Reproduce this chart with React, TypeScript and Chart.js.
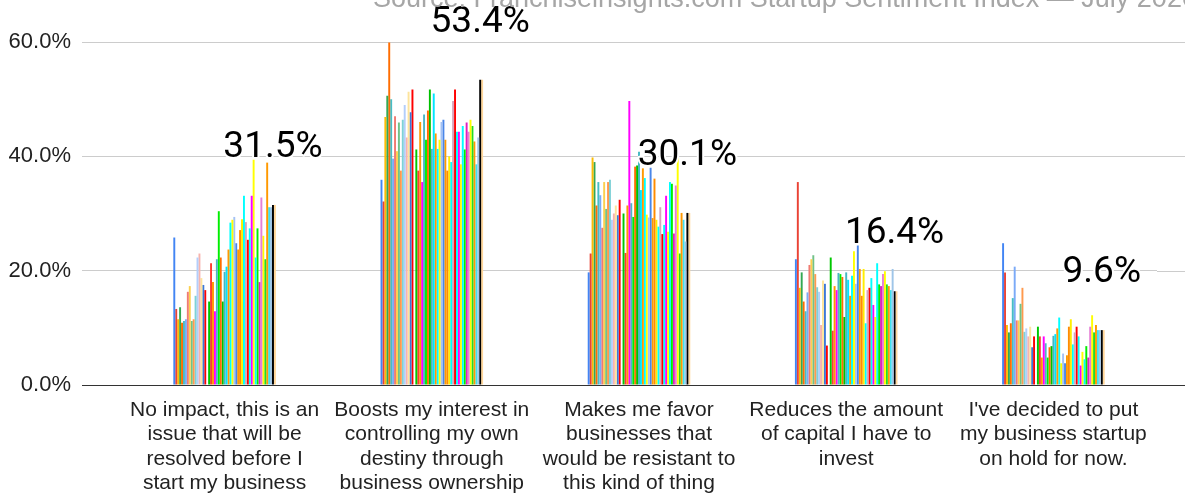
import { useEffect, useRef } from 'react';
import { Chart, registerables } from 'chart.js';

Chart.register(...registerables);

// Answer options shown along the x axis
const categories: string[][] = [
  ['No impact, this is an', 'issue that will be', 'resolved before I', 'start my business'],
  ['Boosts my interest in', 'controlling my own', 'destiny through', 'business ownership'],
  ['Makes me favor', 'businesses that', 'would be resistant to', 'this kind of thing'],
  ['Reduces the amount', 'of capital I have to', 'invest'],
  ["I've decided to put", 'my business startup', 'on hold for now.'],
];

// Share of respondents per survey wave (%), one array per answer option.
// The 18th slot is an empty wave with no responses.
const noImpact = [
  25.8, 13.3, 11.5, 13.6, 10.9, 11.2, 11.5, 16.3, 17.3, 11.2, 11.5, 15.6, 22.3, 23.0, 18.7, 17.5, 16.6,
  null,
  14.6, 21.3, 18.0, 12.9, 22.0, 30.4, 22.3, 14.6, 19.8, 20.7, 23.7, 28.4, 28.9, 29.4, 24.8, 23.7, 27.1,
  29.0, 33.1, 28.5, 25.4, 27.4, 33.1, 39.4, 22.3, 27.4, 18.0, 32.8, 26.1, 22.0, 38.9, 31.1, 31.1,
];
const boostsInterest = [
  35.9, 32.1, 46.9, 50.6, 59.9, 50.0, 39.6, 47.0, 40.9, 45.9, 37.5, 46.4, 49.0, 43.3, 51.3, 47.7, 51.7,
  null,
  41.2, 37.5, 46.0, 35.5, 47.3, 42.9, 48.0, 51.7, 41.3, 51.0, 44.0, 41.3, 42.9, 46.0, 46.4, 42.9, 37.5,
  40.0, 39.0, 49.7, 51.7, 44.3, 44.3, 38.6, 45.3, 41.2, 45.9, 44.3, 46.4, 45.3, 42.6, 38.6, 43.3,
];
const favorResistant = [
  19.7, 23.0, 39.8, 39.0, 31.4, 35.5, 33.2, 27.5, 35.5, 30.8, 35.5, 35.9, 28.9, 30.0, 31.4, 29.7, 32.4,
  null,
  30.0, 23.1, 31.4, 49.7, 31.8, 29.4, 38.2, 38.4, 40.8, 34.1, 37.9, 36.2, 29.8, 29.3, 38.0, 29.2, 36.1,
  28.9, 27.7, 31.1, 26.4, 28.0, 33.1, 26.8, 35.5, 35.2, 26.5, 34.9, 39.9, 23.0, 30.1, 28.9, 25.1,
];
const reducesCapital = [
  22.0, 35.5, 17.0, 19.7, 14.6, 12.9, 16.2, 21.0, 22.0, 22.7, 19.4, 17.1, 16.3, 10.5, 18.3, 17.7, 6.9,
  null,
  22.3, 9.5, 17.3, 16.6, 19.6, 19.4, 18.9, 11.9, 19.7, 18.4, 15.6, 19.1, 23.4, 17.7, 24.4, 20.3, 15.6,
  20.3, 10.8, 16.6, 17.0, 18.7, 14.0, 11.9, 21.3, 17.6, 17.3, 19.4, 19.9, 17.6, 17.3, 16.6, 20.3,
];
const onHold = [
  24.8, 19.7, 10.5, 9.2, 10.8, 15.2, 20.7, 11.3, 11.3, 14.2, 17.0, 9.3, 9.9, 8.5, 10.2, 6.6, 8.5,
  null,
  10.2, 8.5, 4.8, 8.5, 7.3, 4.8, 6.6, 6.8, 8.6, 8.9, 9.9, 11.8, 3.8, 5.5, 3.8, 5.2, 10.2,
  11.5, 7.1, 9.2, 10.2, 8.5, 3.4, 5.8, 4.5, 6.8, 4.8, 10.2, 12.2, 9.2, 10.5, 9.6, 9.6,
];

// Most recent wave, drawn last and labelled
const latestWave = [31.5, 53.4, 30.1, 16.4, 9.6];

const yTicks = [0, 20, 40, 60];

const waveColors = [
  '#4285f4', '#ea4335', '#fbbc04', '#34a853', '#ff6d01', '#46bdc6',
  '#7baaf7', '#f07b72', '#fcd04f', '#71c287', '#ff994d', '#7ed1d7',
  '#b3cefb', '#f7b4ae', '#fde49b', '#3c78d8', '#ff0000',
  '#ffffff',
  '#00c800', '#ff3b30', '#ff9900', '#ff00ff', '#4db6c4', '#00ee00', '#ff6d01', '#00c000',
  '#45b8c2', '#00e5ff', '#ff9900', '#00ffff', '#ffff00', '#a4c2f4', '#4a86e8', '#ff9900',
  '#ff8c00', '#ffee00', '#00ffff', '#d5a6bd', '#ff0000', '#00ffff', '#ff00ff', '#ffff00',
  '#00ffff', '#00ee00', '#e020c0', '#e67fd6', '#ffff00', '#22dd22', '#ff9900', '#40e0f0',
  '#9fc5e8',
];
const latestColor = '#000000';
const latestShade = '#ffd699';

const sourceText = 'Source: Franchiseinsights.com Startup Sentiment Index \u2014 July 2020';

const W = 1185;
const H = 497;

export default function App() {
  const ref = useRef<HTMLCanvasElement>(null);

  useEffect(() => {
    const canvas = ref.current;
    if (!canvas) return;

    const groups = [noImpact, boostsInterest, favorResistant, reducesCapital, onHold];
    const datasets: any[] = waveColors.map((c, i) => ({
      label: `Wave ${i + 1}`,
      data: groups.map((g) => g[i]),
      backgroundColor: c,
      borderWidth: 0,
    }));
    datasets.push(
      { label: 'July 2020', data: latestWave, backgroundColor: latestColor, borderWidth: 0 },
      { label: 'July 2020 (highlight)', data: latestWave, backgroundColor: latestShade, borderWidth: 0 }
    );
    const labelIndex = datasets.length - 2;

    const gridColor = (v: number) => (v === 0 ? '#333333' : '#cccccc');

    // carries the horizontal gridlines past the right edge of the plot
    const gridExtend = {
      id: 'gridExtend',
      beforeDatasetsDraw(chart: any) {
        const { ctx, chartArea, scales } = chart;
        const y = scales.y;
        ctx.save();
        ctx.lineWidth = 1;
        y.ticks.forEach((t: any) => {
          const py = Math.round(y.getPixelForValue(t.value)) + 0.5;
          ctx.strokeStyle = gridColor(t.value);
          ctx.beginPath();
          ctx.moveTo(chartArea.right, py);
          ctx.lineTo(chart.width, py);
          ctx.stroke();
        });
        ctx.restore();
      },
    };

    // big percentage labels over the latest wave, with a white halo
    const valueLabels = {
      id: 'valueLabels',
      afterDatasetsDraw(chart: any) {
        const { ctx } = chart;
        const meta = chart.getDatasetMeta(labelIndex);
        ctx.save();
        ctx.font = '37px Roboto, "Liberation Sans", Arial, sans-serif';
        ctx.textAlign = 'center';
        ctx.textBaseline = 'alphabetic';
        ctx.lineJoin = 'round';
        meta.data.forEach((bar: any, i: number) => {
          const text = `${latestWave[i].toFixed(1)}%`;
          const y = bar.y - 48;
          ctx.strokeStyle = '#ffffff';
          ctx.lineWidth = 4;
          ctx.strokeText(text, bar.x, y);
          ctx.fillStyle = '#000000';
          ctx.fillText(text, bar.x, y);
        });
        ctx.restore();
      },
    };

    const sourceLine = {
      id: 'sourceLine',
      afterDraw(chart: any) {
        const { ctx } = chart;
        ctx.save();
        ctx.font = '27px "Liberation Sans", Arial, sans-serif';
        ctx.fillStyle = '#a6a6a6';
        ctx.textAlign = 'left';
        ctx.textBaseline = 'alphabetic';
        ctx.fillText(sourceText, 373, 7);
        ctx.restore();
      },
    };

    const chart = new Chart(canvas, {
      type: 'bar',
      data: { labels: categories, datasets },
      options: {
        responsive: false,
        animation: false,
        events: [],
        layout: { padding: { top: 42, right: 28, left: 0, bottom: 0 } },
        datasets: {
          bar: { barPercentage: 1, categoryPercentage: 0.495 },
        },
        plugins: {
          legend: { display: false },
          tooltip: { enabled: false },
          title: { display: false },
        },
        scales: {
          x: {
            grid: { display: false, drawTicks: false },
            border: { display: false },
            ticks: {
              autoSkip: false,
              maxRotation: 0,
              minRotation: 0,
              padding: 13,
              color: '#222222',
              font: { family: '"Liberation Sans", Arial, sans-serif', size: 21, lineHeight: 1.16 },
            },
            afterFit: (s: any) => {
              s.height = 112;
            },
          },
          y: {
            min: 0,
            max: 60,
            border: { display: false },
            grid: {
              drawTicks: true,
              tickLength: 39,
              lineWidth: 1,
              color: (c: any) => gridColor(c.tick ? c.tick.value : 1),
              tickColor: (c: any) => gridColor(c.tick ? c.tick.value : 1),
            },
            afterBuildTicks: (s: any) => {
              s.ticks = yTicks.map((v) => ({ value: v }));
            },
            ticks: {
              padding: 11,
              color: '#222222',
              font: { family: '"Liberation Sans", Arial, sans-serif', size: 22 },
              callback: (v: any) => `${Number(v).toFixed(1)}%`,
            },
            afterFit: (s: any) => {
              s.width = 121;
            },
          },
        },
      },
      plugins: [gridExtend, valueLabels, sourceLine],
    });

    return () => chart.destroy();
  }, []);

  return (
    <div style={{ position: 'fixed', left: 0, top: 0, width: W, height: H, background: '#ffffff' }}>
      <canvas ref={ref} width={W} height={H} style={{ display: 'block', width: W, height: H }} />
    </div>
  );
}
